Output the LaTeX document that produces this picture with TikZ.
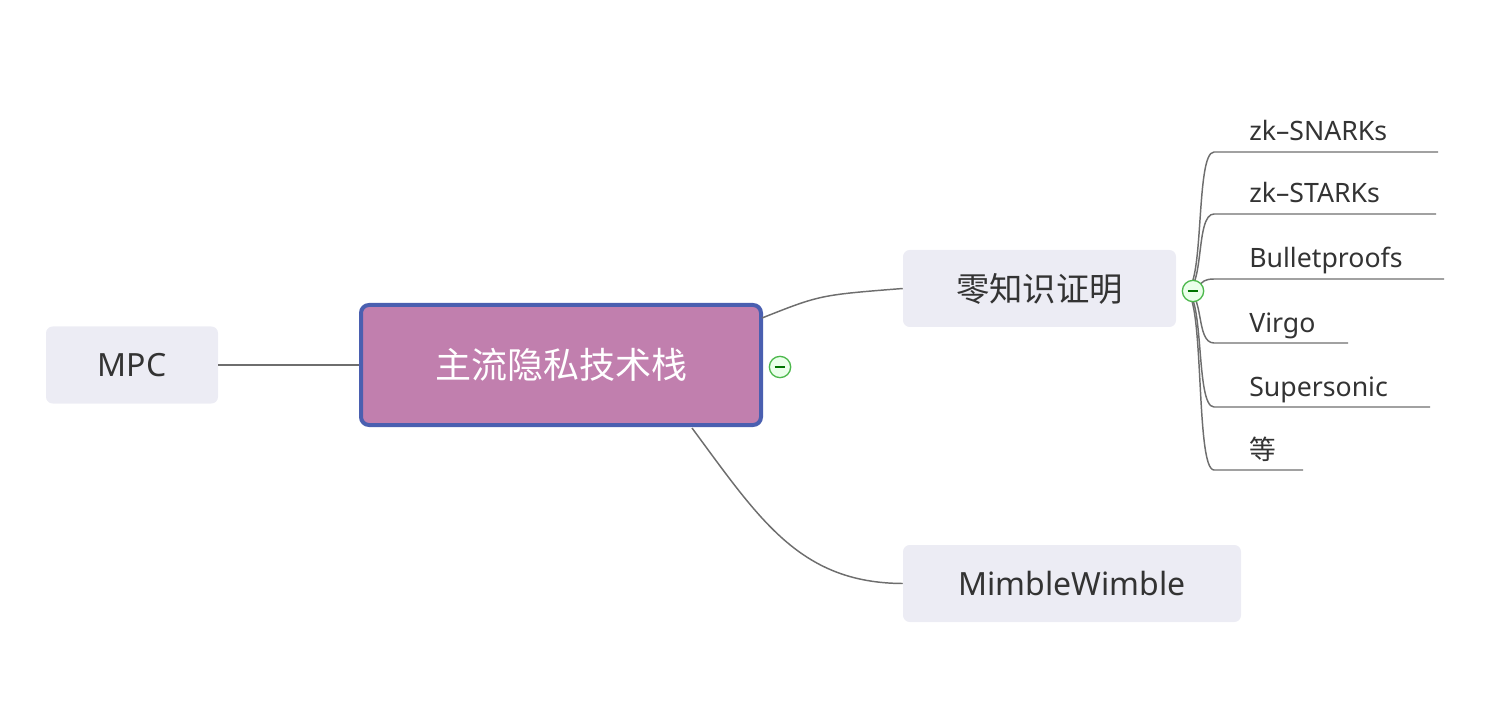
\documentclass[tikz,border=0pt]{standalone}
\usepackage{fontspec}
\setmainfont{Noto Sans}
\newfontfamily\cjk{Noto Sans CJK SC}
\begin{document}
\begin{tikzpicture}[x=0.75pt,y=-0.75pt,
  box/.style={draw=none,fill=boxbg,rounded corners=5pt,inner sep=0pt},
  conn/.style={draw=linegray,line width=1.1pt},
  lbl/.style={font=\fontsize{22}{24}\selectfont,text=txt,anchor=base west,inner sep=0pt},
  leaf/.style={font=\fontsize{20}{22}\selectfont,text=txt,anchor=base west,inner sep=0pt},
  tog/.style={circle,draw=green!60!black!70,fill=green!8,line width=1pt,minimum size=16pt,inner sep=0pt}]
\definecolor{boxbg}{HTML}{ECECF4}
\definecolor{linegray}{HTML}{6E6E6E}
\definecolor{txt}{HTML}{333333}
\definecolor{rootfill}{HTML}{C17FAE}
\definecolor{rootdraw}{HTML}{4A5FB0}
\useasboundingbox (0,0) rectangle (1512,716);
% boxes
\node[box,minimum width=172*0.75pt,minimum height=77*0.75pt] (mpc) at (132,365) {};
\node[lbl,anchor=center,font=\fontsize{24}{26}\selectfont] at (mpc) {MPC};
\node[draw=rootdraw,fill=rootfill,line width=3pt,rounded corners=6pt,minimum width=400*0.75pt,minimum height=120*0.75pt,inner sep=0pt] (root) at (561,365) {};
\node[text=white,font=\cjk\fontsize{27}{30}\selectfont] at (root) {主流隐私技术栈};
\node[box,minimum width=273*0.75pt,minimum height=77*0.75pt] (zk) at (1039.5,288.5) {};
\node[text=txt,font=\cjk\fontsize{25}{28}\selectfont] at (zk) {零知识证明};
\node[box,minimum width=338*0.75pt,minimum height=77*0.75pt] (mw) at (1072,583.5) {};
\node[text=txt,font=\fontsize{24}{26}\selectfont] at (mw) {MimbleWimble};
% connectors
\draw[conn] (mpc.east) -- (root.west);
\coordinate (r1) at (762,318);
\draw[conn] (r1) .. controls (820,295) .. (zk.west);
\coordinate (r2) at (692,428);
\draw[conn] (r2) .. controls (760,520) and (800,583) .. (mw.west);
% leaves
\coordinate (hub) at (1185,291);
\foreach \n/\t/\y/\e in {a/zk--SNARKs/152/1438,b/zk--STARKs/214/1436,c/Bulletproofs/279/1444,d/Virgo/343/1348,e/Supersonic/407/1430,f/{\cjk 等}/470/1303}{
  \coordinate (s\n) at (1214,\y);
  \coordinate (e\n) at (\e,\y);
  \draw[conn] (hub) .. controls (1205,291) and (1195,\y) .. (s\n) -- (e\n);
  \node[leaf] (t\n) at (1249,\y-11) {\t};
}
\node[tog] (tz) at (1193,291) {};
\draw[green!45!black,line width=1pt] ([xshift=-4pt]tz.center) -- ([xshift=4pt]tz.center);
\node[tog] (tr) at (780,367) {};
\draw[green!45!black,line width=1pt] ([xshift=-4pt]tr.center) -- ([xshift=4pt]tr.center);
\end{tikzpicture}
\end{document}
